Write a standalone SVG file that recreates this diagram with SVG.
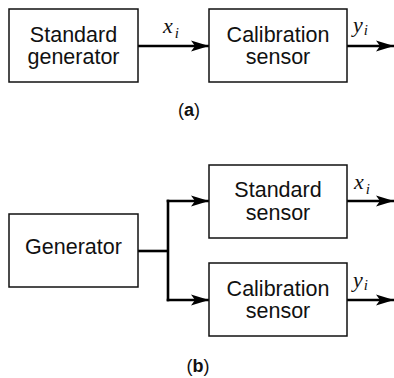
<svg xmlns="http://www.w3.org/2000/svg" width="394" height="378" viewBox="0 0 394 378">
  <style>
    .box { fill: #fff; stroke: #111; stroke-width: 1.5; }
    .lbl { font-family: "Liberation Sans", Arial, sans-serif; font-size: 21.5px; fill: #111; text-anchor: middle; }
    .cap { font-family: "Liberation Sans", Arial, sans-serif; font-size: 18px; fill: #111; text-anchor: middle; }
    .cap tspan { font-weight: bold; }
    .math { font-family: "Liberation Serif", "Times New Roman", serif; font-style: italic; font-size: 22px; fill: #111; }
    .sub { font-size: 15px; }
    .wire { fill: none; stroke: #000; stroke-width: 2.6; }
  </style>
  <defs>
    <marker id="arrow" markerUnits="userSpaceOnUse" markerWidth="19" markerHeight="12" viewBox="0 0 19 12" refX="18" refY="6" orient="auto">
      <path d="M0,0.5 L18,6 L0,11.5 L4,6 Z" fill="#000"/>
    </marker>
  </defs>

  <rect width="394" height="378" fill="#fff"/>

  <!-- connectors -->
  <g id="connectors">
    <line class="wire" x1="138" y1="46" x2="209" y2="46" marker-end="url(#arrow)"/>
    <line class="wire" x1="347" y1="46" x2="394" y2="46" marker-end="url(#arrow)"/>
    <line class="wire" x1="138" y1="251" x2="168" y2="251"/>
    <line class="wire" x1="168" y1="199.7" x2="168" y2="301.3"/>
    <line class="wire" x1="166.7" y1="201" x2="209" y2="201" marker-end="url(#arrow)"/>
    <line class="wire" x1="166.7" y1="300" x2="209" y2="300" marker-end="url(#arrow)"/>
    <line class="wire" x1="347" y1="201" x2="394" y2="201" marker-end="url(#arrow)"/>
    <line class="wire" x1="347" y1="300" x2="394" y2="300" marker-end="url(#arrow)"/>
  </g>

  <!-- signal labels -->
  <g id="signals">
    <text class="math" x="163" y="33">x<tspan class="sub" dx="2" dy="5">i</tspan></text>
    <text class="math" x="353" y="32">y<tspan class="sub" dx="1" dy="3">i</tspan></text>
    <text class="math" x="354" y="189">x<tspan class="sub" dx="2" dy="5">i</tspan></text>
    <text class="math" x="353" y="287">y<tspan class="sub" dx="1" dy="3">i</tspan></text>
  </g>

  <!-- (a) -->
  <g id="std-generator">
    <rect class="box" x="9" y="9" width="129" height="73"/>
    <text class="lbl" x="73.5" y="42">Standard</text>
    <text class="lbl" x="73.5" y="64">generator</text>
  </g>
  <g id="cal-sensor-a">
    <rect class="box" x="209" y="9" width="138" height="73"/>
    <text class="lbl" x="278" y="42">Calibration</text>
    <text class="lbl" x="278" y="64">sensor</text>
  </g>
  <text class="cap" x="189" y="116">(<tspan>a</tspan>)</text>

  <!-- (b) -->
  <g id="generator">
    <rect class="box" x="9" y="214" width="129" height="73"/>
    <text class="lbl" x="73.5" y="254">Generator</text>
  </g>
  <g id="std-sensor">
    <rect class="box" x="209" y="165" width="138" height="73"/>
    <text class="lbl" x="278" y="197">Standard</text>
    <text class="lbl" x="278" y="220">sensor</text>
  </g>
  <g id="cal-sensor-b">
    <rect class="box" x="209" y="263" width="138" height="73"/>
    <text class="lbl" x="278" y="296">Calibration</text>
    <text class="lbl" x="278" y="318">sensor</text>
  </g>
  <text class="cap" x="198" y="372">(<tspan>b</tspan>)</text>
</svg>
